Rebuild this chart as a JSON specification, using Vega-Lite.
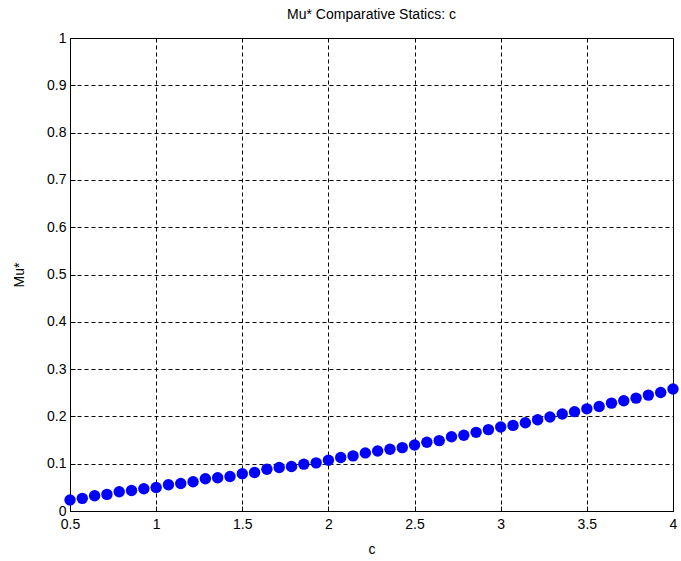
{
  "$schema": "https://vega.github.io/schema/vega-lite/v6.json",
  "autosize": "none",
  "width": 603,
  "height": 473,
  "padding": {"left": 70, "top": 38, "right": 8, "bottom": 50},
  "background": "white",
  "title": {"text": "Mu* Comparative Statics: c", "font": "Liberation Sans", "fontSize": 14, "fontWeight": "normal", "color": "black", "offset": 9},
  "config": {
    "view": {"stroke": "black", "strokeWidth": 1},
    "axis": {
      "labelFont": "Liberation Sans", "labelFontSize": 14, "labelColor": "black",
      "titleFont": "Liberation Sans", "titleFontSize": 14, "titleFontWeight": "normal", "titleColor": "black",
      "domainColor": "black", "tickColor": "black", "gridColor": "black", "gridDash": [4, 3], "gridOpacity": 1, "gridWidth": 1
    }
  },
  "data": {"values": [
    {"c": 0.5, "mu": 0.0232}, {"c": 0.5714, "mu": 0.0267}, {"c": 0.6429, "mu": 0.0323}, {"c": 0.7143, "mu": 0.0351},
    {"c": 0.7857, "mu": 0.0407}, {"c": 0.8571, "mu": 0.0435}, {"c": 0.9286, "mu": 0.047}, {"c": 1.0, "mu": 0.0498},
    {"c": 1.0714, "mu": 0.0554}, {"c": 1.1429, "mu": 0.0582}, {"c": 1.2143, "mu": 0.0618}, {"c": 1.2857, "mu": 0.0681},
    {"c": 1.3571, "mu": 0.0702}, {"c": 1.4286, "mu": 0.073}, {"c": 1.5, "mu": 0.0786}, {"c": 1.5714, "mu": 0.0814},
    {"c": 1.6429, "mu": 0.0884}, {"c": 1.7143, "mu": 0.0919}, {"c": 1.7857, "mu": 0.094}, {"c": 1.8571, "mu": 0.099},
    {"c": 1.9286, "mu": 0.1018}, {"c": 2.0, "mu": 0.1074}, {"c": 2.0714, "mu": 0.113}, {"c": 2.1429, "mu": 0.1165},
    {"c": 2.2143, "mu": 0.1228}, {"c": 2.2857, "mu": 0.127}, {"c": 2.3571, "mu": 0.1305}, {"c": 2.4286, "mu": 0.134},
    {"c": 2.5, "mu": 0.1396}, {"c": 2.5714, "mu": 0.1453}, {"c": 2.6429, "mu": 0.1488}, {"c": 2.7143, "mu": 0.157},
    {"c": 2.7857, "mu": 0.16}, {"c": 2.8571, "mu": 0.1663}, {"c": 2.9286, "mu": 0.172}, {"c": 3.0, "mu": 0.1775},
    {"c": 3.0714, "mu": 0.181}, {"c": 3.1429, "mu": 0.1867}, {"c": 3.2143, "mu": 0.193}, {"c": 3.2857, "mu": 0.1986},
    {"c": 3.3571, "mu": 0.205}, {"c": 3.4286, "mu": 0.21}, {"c": 3.5, "mu": 0.216}, {"c": 3.5714, "mu": 0.221},
    {"c": 3.6429, "mu": 0.228}, {"c": 3.7143, "mu": 0.233}, {"c": 3.7857, "mu": 0.2386}, {"c": 3.8571, "mu": 0.245},
    {"c": 3.9286, "mu": 0.2505}, {"c": 4.0, "mu": 0.258}
  ]},
  "mark": {"type": "point", "filled": true, "shape": "circle", "size": 130, "color": "#0000ff", "opacity": 1, "clip": false},
  "encoding": {
    "x": {"field": "c", "type": "quantitative", "title": "c",
      "scale": {"domain": [0.5, 4], "nice": false, "zero": false},
      "axis": {"values": [0.5, 1, 1.5, 2, 2.5, 3, 3.5, 4], "format": "~g", "tickSize": -5, "labelPadding": 11, "titlePadding": 11, "labelFlush": false}},
    "y": {"field": "mu", "type": "quantitative", "title": "Mu*",
      "scale": {"domain": [0, 1], "nice": false},
      "axis": {"values": [0, 0.1, 0.2, 0.3, 0.4, 0.5, 0.6, 0.7, 0.8, 0.9, 1], "format": "~g", "tickSize": -5, "labelPadding": 9, "titlePadding": 20}}
  }
}
